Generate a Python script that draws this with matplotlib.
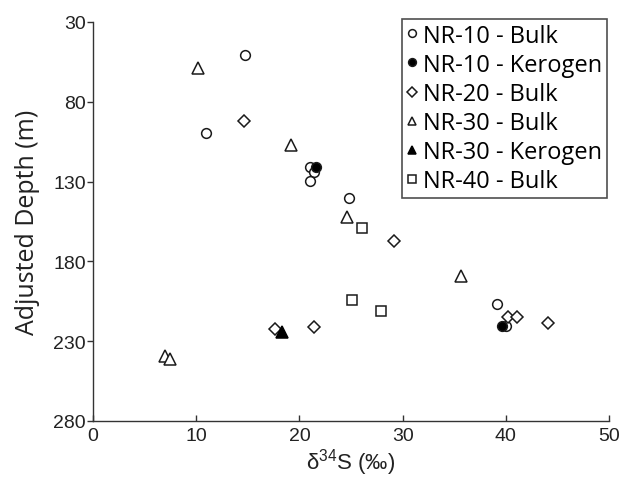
import matplotlib
matplotlib.use('Agg')
import matplotlib.pyplot as plt

# NR-10 bulk
nr10_x = [14.7, 10.95, 21.0, 21.4, 21.0, 24.8, 39.1, 40.0]
nr10_d = [50.7, 99.5, 120.9, 124.0, 129.6, 140.3, 206.7, 220.5]
# NR-10 kerogen
nr10k_x = [21.6, 39.6]
nr10k_d = [120.9, 220.5]
# NR-20 bulk
nr20_x = [14.6, 29.2, 21.4, 17.6, 40.2, 41.1, 44.1]
nr20_d = [92.0, 167.0, 221.0, 222.4, 214.8, 214.8, 218.6]
# NR-30 bulk
nr30_x = [10.2, 19.2, 24.6, 35.7, 7.0, 7.5]
nr30_d = [58.8, 107.0, 152.0, 189.0, 239.6, 240.9]
# NR-30 kerogen
nr30k_x = [18.3]
nr30k_d = [224.0]
# NR-40 bulk
nr40_x = [26.1, 25.1, 27.9]
nr40_d = [159.0, 204.0, 211.0]

LABELS = ['NR-10 - Bulk', 'NR-10 - Kerogen', 'NR-20 - Bulk',
          'NR-30 - Bulk', 'NR-30 - Kerogen', 'NR-40 - Bulk']

fig = plt.figure(figsize=(6.24, 4.85), dpi=100)
ax = fig.add_axes([0.149, 0.13, 0.827, 0.8226])

ms = 7
mew = 1.1
kw = dict(linestyle='none', markersize=ms, markeredgewidth=mew, markeredgecolor='#1a1a1a')
ax.plot(nr10_x, nr10_d, 'o', markerfacecolor='white', label=LABELS[0], **kw)
ax.plot(nr20_x, nr20_d, 'D', markerfacecolor='white', label=LABELS[2],
        linestyle='none', markersize=6.5, markeredgewidth=mew, markeredgecolor='#1a1a1a')
ax.plot(nr30_x, nr30_d, '^', markerfacecolor='white', label=LABELS[3],
        linestyle='none', markersize=8, markeredgewidth=mew, markeredgecolor='#1a1a1a')
ax.plot(nr40_x, nr40_d, 's', markerfacecolor='white', label=LABELS[5], **kw)
ax.plot(nr10k_x, nr10k_d, 'o', markerfacecolor='black', label=LABELS[1], **kw)
ax.plot(nr30k_x, nr30k_d, '^', markerfacecolor='black', label=LABELS[4],
        linestyle='none', markersize=8, markeredgewidth=mew, markeredgecolor='black')

ax.set_xlim(0, 50)
ax.set_ylim(280, 30)
ax.set_xticks(range(0, 51, 10))
ax.set_yticks(range(30, 281, 50))
ax.spines['top'].set_visible(False)
ax.spines['right'].set_visible(False)
for s in ('left', 'bottom'):
    ax.spines[s].set_linewidth(1.0)
    ax.spines[s].set_color('#333333')
ax.tick_params(axis='y', direction='out', length=4, width=1, color='#333333',
               labelsize=14, pad=1)
ax.tick_params(axis='x', direction='in', length=4, width=1, color='#333333',
               labelsize=14, pad=4)
for t in ax.get_xticklabels() + ax.get_yticklabels():
    t.set_fontfamily('Liberation Sans')
    t.set_color('#222222')

ax.set_xlabel(r'$\mathregular{\delta^{34}}$S (‰)', fontsize=16, family='Liberation Sans',
              color='#222222', labelpad=2)
ax.set_ylabel('Adjusted Depth (m)', fontsize=18, family='Open Sans', color='#222222',
              labelpad=10)

handles, labels = ax.get_legend_handles_labels()
order = [labels.index(l) for l in LABELS]
leg = ax.legend([handles[i] for i in order], [labels[i] for i in order],
                loc='upper right', bbox_to_anchor=(0.996, 1.008), borderaxespad=0,
                fancybox=False, frameon=True, edgecolor='#222222', markerscale=0.8,
                handlelength=0.5, handletextpad=0.2, borderpad=0.2,
                labelspacing=0.22, prop={'family': 'Open Sans', 'size': 17})
leg.get_frame().set_linewidth(1.2)

fig.savefig('out.png', dpi=100)
